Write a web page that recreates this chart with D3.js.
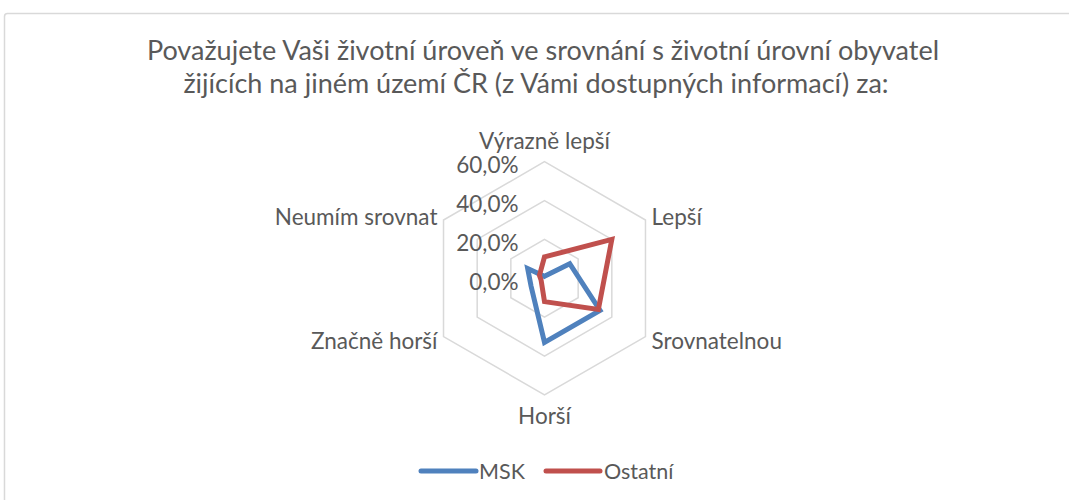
<!DOCTYPE html>
<html>
<head>
<meta charset="utf-8">
<script src="https://cdn.jsdelivr.net/npm/d3@7"></script>
<style>
  html, body { margin: 0; padding: 0; background: #ffffff; }
  svg { display: block; }
  text { font-family: Lato, "Open Sans", sans-serif; fill: #595959; }
</style>
</head>
<body>
<svg id="chart" width="1069" height="500"></svg>
<script>
const titleLines = [
  "Považujete Vaši životní úroveň ve srovnání s životní úrovní obyvatel",
  "žijících na jiném území ČR (z Vámi dostupných informací) za:"
];
const categories = ["Výrazně lepší", "Lepší", "Srovnatelnou", "Horší", "Značně horší", "Neumím srovnat"];
const seriesNames = ["MSK", "Ostatní"];
const mskValues = [0.01, 0.15, 0.33, 0.33, 0.08, 0.10];
const ostatniValues = [0.11, 0.40, 0.32, 0.12, 0.02, 0.03];
const tickValues = [0, 0.2, 0.4, 0.6];
const tickLabels = ["0,0%", "20,0%", "40,0%", "60,0%"];
const seriesColors = ["#4F81BD", "#C0504D"];

const svg = d3.select("#chart");

// chart area border
svg.append("rect")
  .attr("x", 4.5).attr("y", 13.5)
  .attr("width", 1100).attr("height", 600)
  .attr("rx", 3)
  .attr("fill", "#ffffff")
  .attr("stroke", "#D9D9D9")
  .attr("stroke-width", 1.5);

// title
const title = svg.append("text")
  .attr("text-anchor", "middle")
  .style("font-size", "27px");
title.append("tspan").attr("x", 543).attr("y", 60).text(titleLines[0]);
title.append("tspan").attr("x", 536).attr("y", 93).text(titleLines[1]);

const cx = 544.5, cy = 278.3, R = 116.6;
const r = d3.scaleLinear().domain([0, 0.6]).range([0, R]);
const n = categories.length;
const angle = i => i * 2 * Math.PI / n;

const g = svg.append("g").attr("transform", `translate(${cx},${cy})`);

// grid hexagons
const gridLine = d3.lineRadial()
  .angle((d, i) => angle(i))
  .radius(d => r(d))
  .curve(d3.curveLinearClosed);

g.selectAll("path.grid")
  .data(tickValues.filter(t => t > 0))
  .join("path")
  .attr("class", "grid")
  .attr("d", t => gridLine(categories.map(() => t)))
  .attr("fill", "none")
  .attr("stroke", "#D9D9D9")
  .attr("stroke-width", 1.5);

// tick labels
g.selectAll("text.tick")
  .data(tickValues)
  .join("text")
  .attr("class", "tick")
  .attr("x", -26)
  .attr("y", t => -r(t) + 3)
  .attr("text-anchor", "end")
  .attr("dominant-baseline", "central")
  .style("font-size", "22.5px")
  .text((t, i) => tickLabels[i]);

// series
const seriesData = [mskValues, ostatniValues];
const line = d3.lineRadial()
  .angle((d, i) => angle(i))
  .radius(d => r(d))
  .curve(d3.curveLinearClosed);

g.selectAll("path.series")
  .data(seriesData)
  .join("path")
  .attr("class", "series")
  .attr("d", d => line(d))
  .attr("fill", "none")
  .attr("stroke", (d, i) => seriesColors[i])
  .attr("stroke-width", 5)
  .attr("stroke-linejoin", "miter")
  .attr("stroke-miterlimit", 10);

// category labels
g.selectAll("text.cat")
  .data(categories)
  .join("text")
  .attr("class", "cat")
  .style("font-size", "22.5px")
  .attr("dominant-baseline", "central")
  .attr("text-anchor", (d, i) => {
    const s = Math.sin(angle(i));
    return Math.abs(s) < 0.01 ? "middle" : (s > 0 ? "start" : "end");
  })
  .attr("x", (d, i) => {
    const s = Math.sin(angle(i));
    return Math.abs(s) < 0.01 ? 0 : s * (R + 7);
  })
  .attr("y", (d, i) => {
    const s = Math.sin(angle(i)), c = Math.cos(angle(i));
    return Math.abs(s) < 0.01 ? -c * (R + 21) : -c * (R + 8);
  })
  .text(d => d);

// legend
const legendItems = [
  { x1: 421, x2: 476, tx: 479 },
  { x1: 546, x2: 600, tx: 604 }
];
const lg = svg.append("g");
legendItems.forEach((it, i) => {
  lg.append("line")
    .attr("x1", it.x1).attr("x2", it.x2)
    .attr("y1", 471).attr("y2", 471)
    .attr("stroke", seriesColors[i])
    .attr("stroke-width", 5)
    .attr("stroke-linecap", "round");
  lg.append("text")
    .attr("x", it.tx).attr("y", 471)
    .attr("dominant-baseline", "central")
    .style("font-size", "21.5px")
    .text(seriesNames[i]);
});
</script>
</body>
</html>
